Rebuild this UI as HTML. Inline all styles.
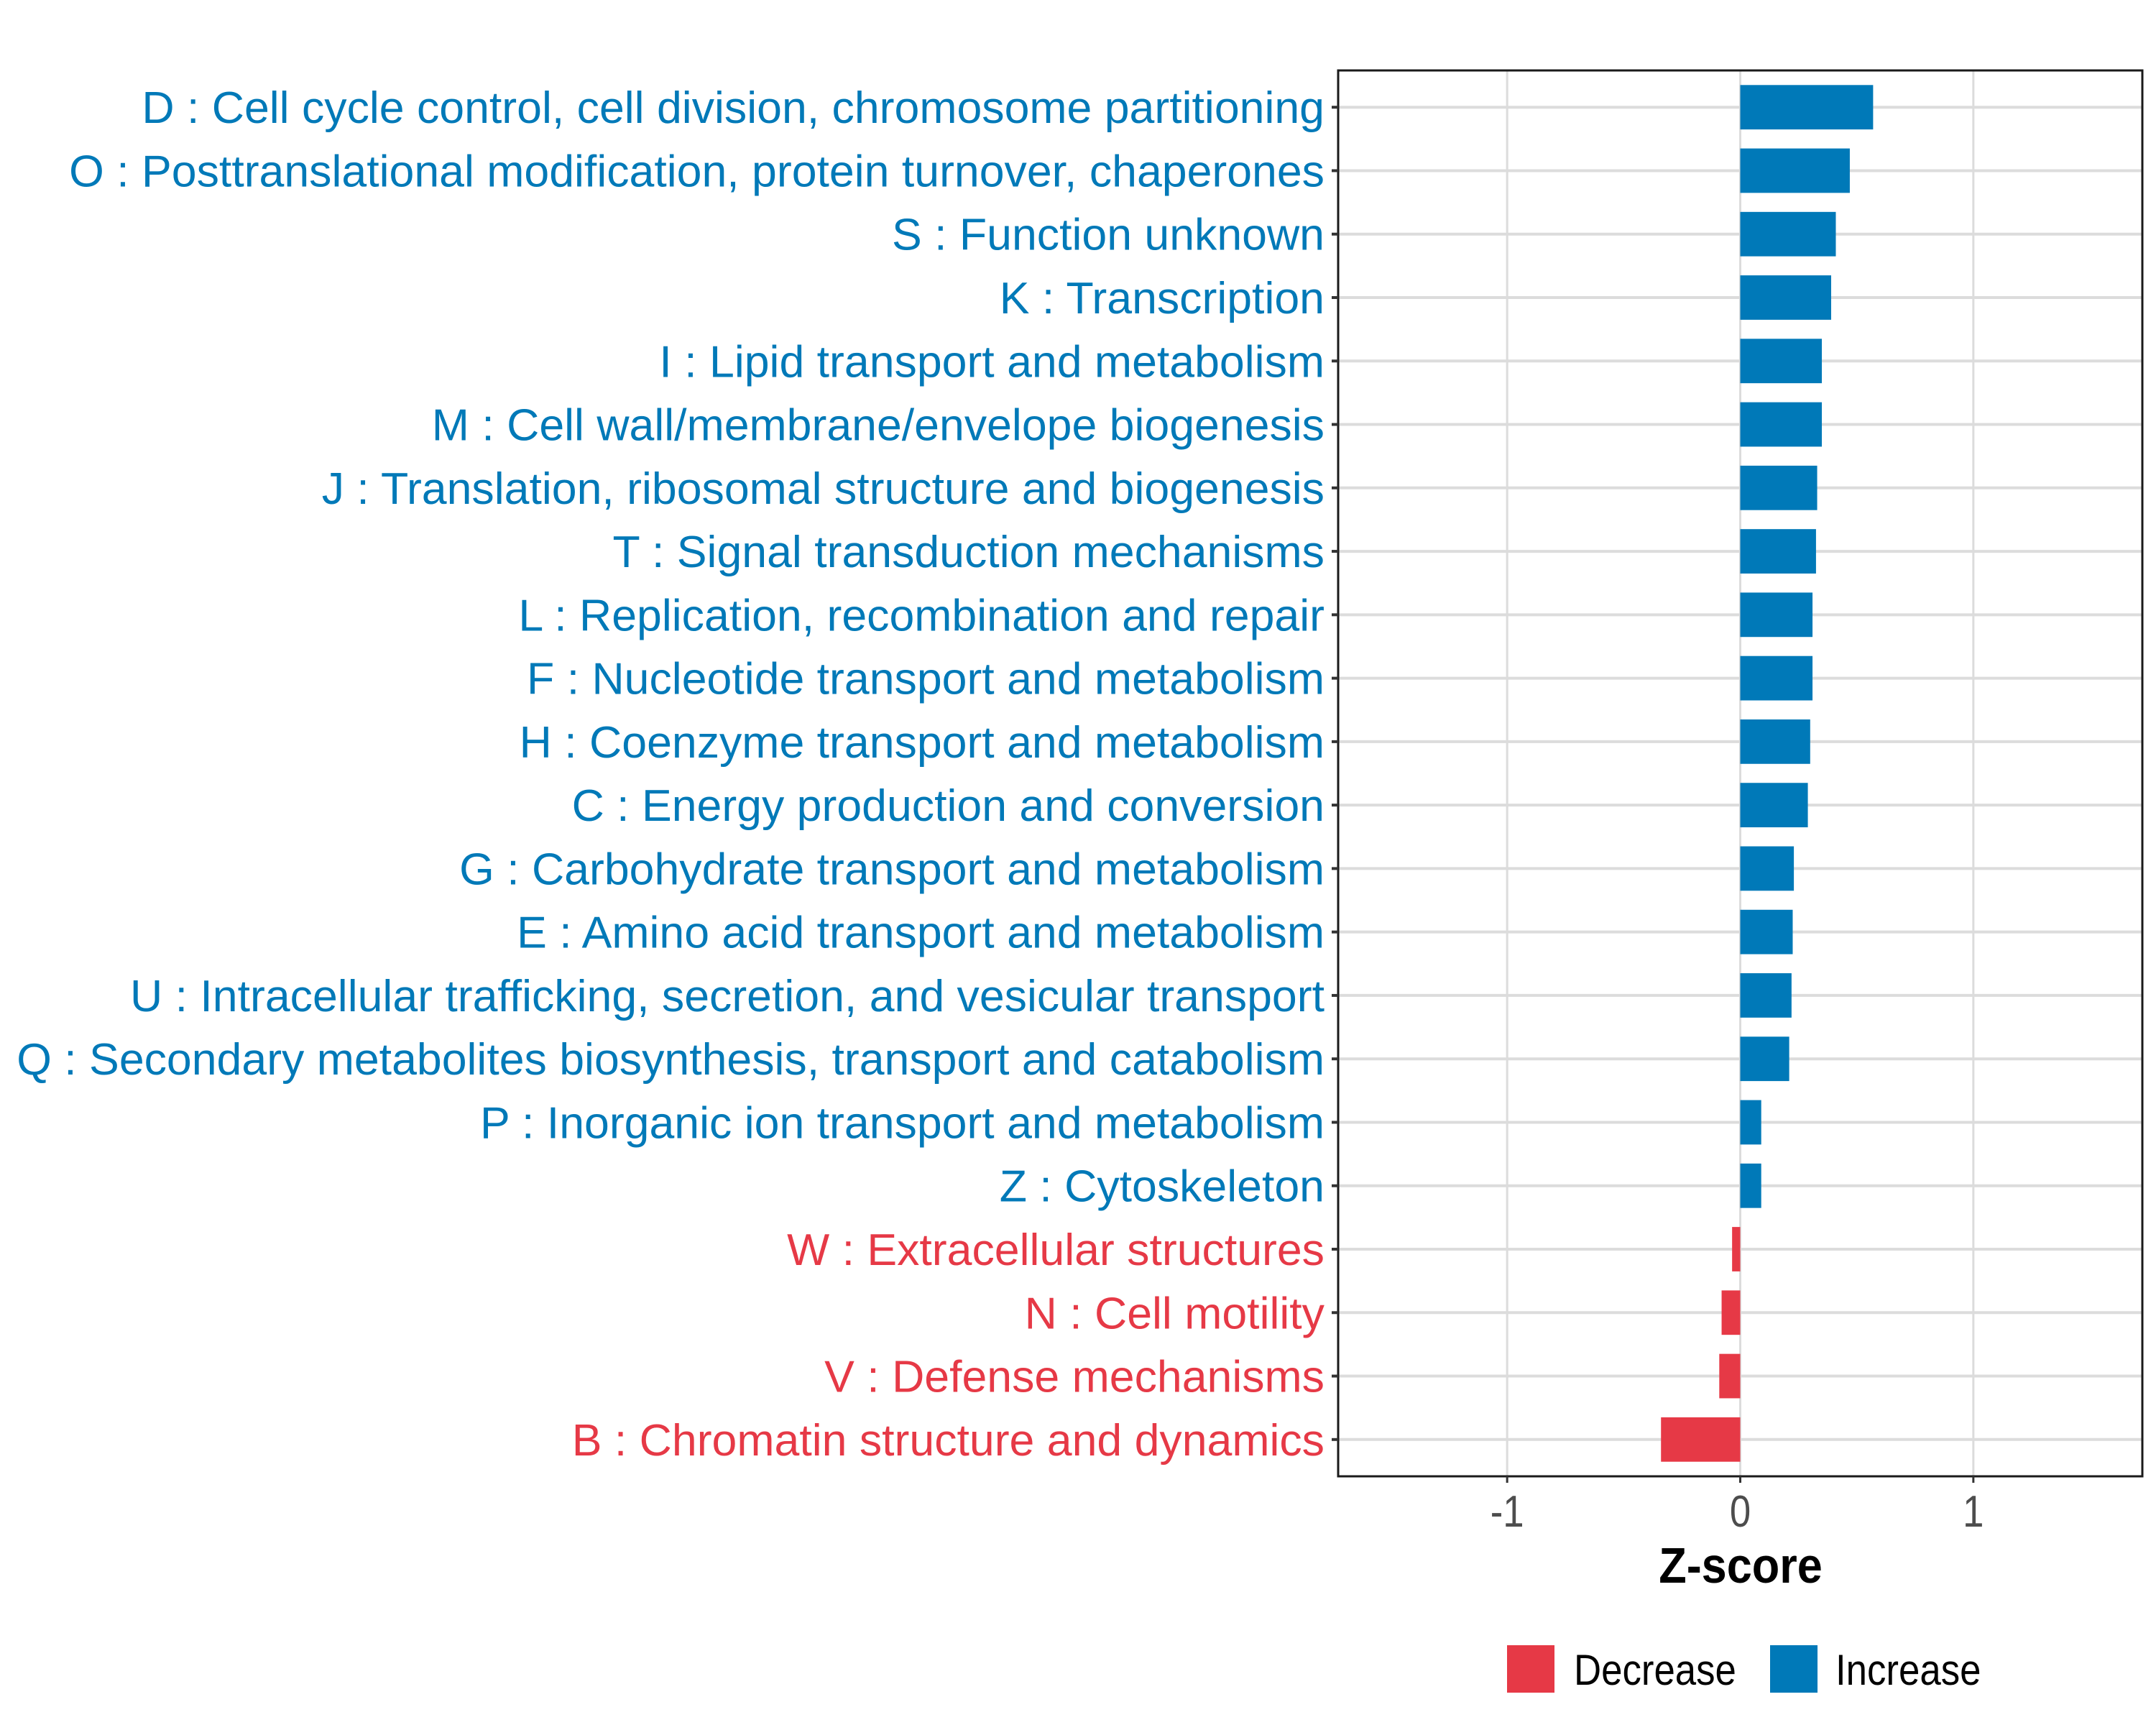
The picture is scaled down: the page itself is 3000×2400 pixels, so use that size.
<!DOCTYPE html>
<html><head><meta charset="utf-8"><style>
html,body{margin:0;padding:0;background:#fff;}
svg{display:block;font-family:"Liberation Sans",Arial,sans-serif;}
</style></head><body>
<svg id="chart" width="3000" height="2400" viewBox="0 0 3000 2400">
<rect x="0" y="0" width="3000" height="2400" fill="#fff"/>
<g id="grid"></g>
<g id="bars"></g>
<rect x="1862" y="98" width="1119" height="1956" fill="none" stroke="#1a1a1a" stroke-width="3"/>
<g id="ylabels"></g>
<g id="xaxis"></g>
<text id="xt" x="2422" y="2202" text-anchor="middle" font-size="70" font-weight="bold" fill="#000">Z-score</text>
<g>
<rect x="2097" y="2289" width="66" height="66" fill="#E63946"/>
<text class="lg" x="2190" y="2344" font-size="60" fill="#000">Decrease</text>
<rect x="2463" y="2289" width="66" height="66" fill="#0079B8"/>
<text class="lg" x="2554" y="2344" font-size="60" fill="#000">Increase</text>
</g>
</svg>
<script>
const categories=["D : Cell cycle control, cell division, chromosome partitioning","O : Posttranslational modification, protein turnover, chaperones","S : Function unknown","K : Transcription","I : Lipid transport and metabolism","M : Cell wall/membrane/envelope biogenesis","J : Translation, ribosomal structure and biogenesis","T : Signal transduction mechanisms","L : Replication, recombination and repair","F : Nucleotide transport and metabolism","H : Coenzyme transport and metabolism","C : Energy production and conversion","G : Carbohydrate transport and metabolism","E : Amino acid transport and metabolism","U : Intracellular trafficking, secretion, and vesicular transport","Q : Secondary metabolites biosynthesis, transport and catabolism","P : Inorganic ion transport and metabolism","Z : Cytoskeleton","W : Extracellular structures","N : Cell motility","V : Defense mechanisms","B : Chromatin structure and dynamics"];
const zscores=[0.57,0.47,0.41,0.39,0.35,0.35,0.33,0.325,0.31,0.31,0.30,0.29,0.23,0.225,0.22,0.21,0.09,0.09,-0.035,-0.08,-0.09,-0.34];
const xTicks=[-1,0,1];
const xTickLabels=["-1","0","1"];

const NS="http://www.w3.org/2000/svg";
const PL=1862,PR=2981,PT=98,PB=2054,XMIN=-1.725,XMAX=1.725;
const x=v=>PL+(v-XMIN)/(XMAX-XMIN)*(PR-PL);
const step=(PB-PT)/(categories.length-1+1.16);
const y=i=>PT+step*0.58+i*step;
const BLUE="#0079B8",RED="#E63946";
function mk(tag,attrs,parent){const e=document.createElementNS(NS,tag);for(const k in attrs)e.setAttribute(k,attrs[k]);parent.appendChild(e);return e;}
function condense(t,ax,f){t.setAttribute('transform','translate('+ax+' 0) scale('+f+' 1) translate('+(-ax)+' 0)');}
const grid=document.getElementById('grid'),bars=document.getElementById('bars'),yl=document.getElementById('ylabels'),xa=document.getElementById('xaxis');
xTicks.forEach((t,i)=>{
  const l=mk('line',{x1:x(t),x2:x(t),y1:PT,y2:PB,stroke:'#dcdcdc','stroke-width':3},grid);
  
  
  const tk=mk('line',{x1:x(t),x2:x(t),y1:PB,y2:PB+9,stroke:'#333','stroke-width':3},xa);
  
  
  const tx=mk('text',{x:x(t),y:2124,'text-anchor':'middle','font-size':62,fill:'#4d4d4d'},xa);
  tx.textContent=xTickLabels[i];
  
  
  condense(tx,x(t),0.85);
});
const labels=[];
categories.forEach((c,i)=>{
  const yy=y(i),v=zscores[i],col=v>=0?BLUE:RED;
  const g=mk('line',{x1:PL,x2:PR,y1:yy,y2:yy,stroke:'#dcdcdc','stroke-width':4},grid);
  
  
  const h=step*0.7;
  const b=mk('rect',{x:Math.min(x(0),x(v)),y:yy-h/2,width:Math.abs(x(v)-x(0)),height:h,fill:col},bars);
  
  
  const tk=mk('line',{x1:PL-9,x2:PL,y1:yy,y2:yy,stroke:'#333','stroke-width':4},yl);
  
  
  const t=mk('text',{x:1843,y:yy+22,'text-anchor':'end','font-size':62,fill:col},yl);
  t.textContent=c;
  
  
  labels.push(t);
});
const qi=15;const w=labels[qi].getComputedTextLength();
const f=w>0?1820/w:1;
labels.forEach(t=>condense(t,1843,f));
condense(document.getElementById('xt'),2422,0.9);
const lg=document.querySelectorAll('.lg');
condense(lg[0],2190,0.88);condense(lg[1],2554,0.88);
</script>
</body></html>
